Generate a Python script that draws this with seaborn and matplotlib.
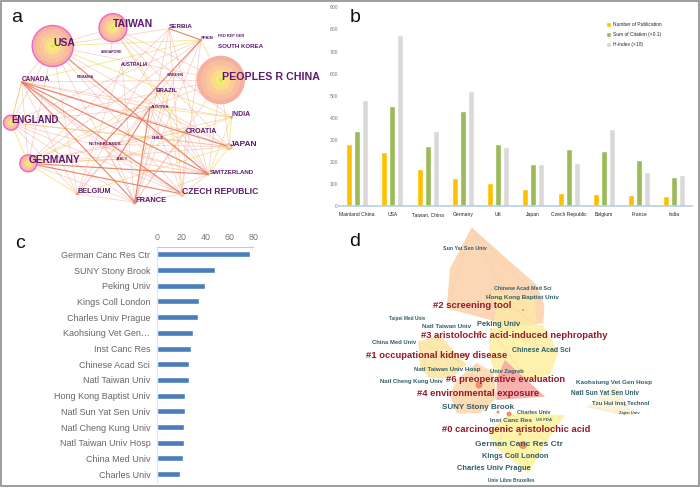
import numpy as np
import pandas as pd
import seaborn as sns
import matplotlib.pyplot as plt
from matplotlib.patches import Polygon, Rectangle

sns.set_style("white")
plt.rcParams['font.family'] = ['Liberation Sans', 'DejaVu Sans']

# Panel a: collaboration network between countries
node_names = ["USA", "TAIWAN", "PEOPLES R CHINA", "SERBIA", "SPAIN", "SINGAPORE", "AUSTRALIA", "ROMANIA",
              "CANADA", "SWEDEN", "BRAZIL", "AUSTRIA", "INDIA", "ENGLAND", "CROATIA", "CHILE", "JAPAN",
              "NETHERLANDS", "ITALY", "GERMANY", "SWITZERLAND", "BELGIUM", "CZECH REPUBLIC", "FRANCE"]
node_x = [52.7, 113, 220.7, 169.3, 201, 111, 122, 84, 21.7, 175, 165.7, 150, 231.7, 11, 186, 158, 229,
          103, 117.3, 28.3, 208.3, 77.3, 182, 134.7]
node_y = [46, 27.7, 80, 28.7, 40, 52, 64.3, 77, 82, 75.3, 91, 107.3, 117.3, 122.7, 131.3, 138, 146.7,
          144.3, 159.3, 163.3, 174.3, 194, 194, 202.3]
node_radius = [20.5, 14, 24.3, 1, 1, .8, .8, .6, 1, .8, .8, 1, 1.2, 7.5, 1, .8, 3.5, 1, 1.3, 8.5, 1.2, 1.3, 2.7, 2]
ring_nodes = ["USA", "TAIWAN", "ENGLAND", "GERMANY"]

label_names = ["USA", "TAIWAN", "PEOPLES R CHINA", "SERBIA", "SPAIN", "FED REP GER", "SOUTH KOREA", "SINGAPORE",
               "AUSTRALIA", "ROMANIA", "CANADA", "SWEDEN", "BRAZIL", "AUSTRIA", "INDIA", "ENGLAND", "CROATIA",
               "CHILE", "JAPAN", "NETHERLANDS", "ITALY", "GERMANY", "SWITZERLAND", "BELGIUM", "CZECH REPUBLIC",
               "FRANCE"]
label_x = [53, 113, 221.7, 169.3, 201, 218, 218, 101, 121, 76.7, 21.7, 166.7, 156, 150.7, 232, 11.7, 186,
           152, 230, 88.7, 116.7, 29, 210, 77.3, 182.3, 135]
label_y = [42.7, 24.3, 76.7, 26.3, 38.3, 36, 46.3, 51.7, 64.3, 76.7, 79.3, 75.3, 91, 106.7, 114.7, 119.7,
           131.3, 138, 144, 144.3, 159.3, 160.3, 172.3, 191.7, 191, 201]
label_size = [7.5, 7.5, 7.7, 4.6, 3.2, 2.8, 4.4, 2.6, 3.4, 2.6, 4.7, 2.8, 4.4, 3, 5, 6.9, 5, 3, 6, 3.2,
              3, 7.4, 4.4, 5.2, 6.2, 5.4]

edges_strong = [("GERMANY", "CZECH REPUBLIC"), ("GERMANY", "SWITZERLAND"), ("USA", "SWITZERLAND"),
                ("CANADA", "SWITZERLAND"), ("CANADA", "CZECH REPUBLIC"), ("AUSTRIA", "ITALY"),
                ("AUSTRIA", "FRANCE"), ("SPAIN", "SERBIA"), ("CANADA", "FRANCE"), ("CANADA", "JAPAN"),
                ("SPAIN", "NETHERLANDS")]
edges_medium = [("USA", "TAIWAN"), ("USA", "CANADA"), ("USA", "ENGLAND"), ("USA", "GERMANY"), ("USA", "BELGIUM"),
                ("USA", "FRANCE"), ("USA", "SERBIA"), ("USA", "JAPAN"), ("USA", "CZECH REPUBLIC"),
                ("USA", "PEOPLES R CHINA"), ("TAIWAN", "SINGAPORE"), ("TAIWAN", "INDIA"), ("TAIWAN", "JAPAN"),
                ("TAIWAN", "SWITZERLAND"), ("TAIWAN", "PEOPLES R CHINA"), ("PEOPLES R CHINA", "AUSTRIA"),
                ("PEOPLES R CHINA", "JAPAN"), ("PEOPLES R CHINA", "ENGLAND"), ("PEOPLES R CHINA", "SWITZERLAND"),
                ("PEOPLES R CHINA", "CANADA"), ("PEOPLES R CHINA", "FRANCE"), ("SERBIA", "BELGIUM"),
                ("SERBIA", "FRANCE"), ("SERBIA", "SWITZERLAND"), ("SERBIA", "CZECH REPUBLIC"), ("SERBIA", "GERMANY"),
                ("SPAIN", "GERMANY"), ("SPAIN", "ENGLAND"), ("SPAIN", "CZECH REPUBLIC"), ("SPAIN", "FRANCE"),
                ("SPAIN", "BELGIUM"), ("CANADA", "ENGLAND"), ("CANADA", "GERMANY"), ("CANADA", "BELGIUM"),
                ("CANADA", "ITALY"), ("CANADA", "CROATIA"), ("CANADA", "NETHERLANDS"), ("CANADA", "AUSTRIA"),
                ("CANADA", "INDIA"), ("ENGLAND", "AUSTRIA"), ("ENGLAND", "BELGIUM"), ("ENGLAND", "FRANCE"),
                ("ENGLAND", "SWITZERLAND"), ("ENGLAND", "JAPAN"), ("ENGLAND", "CZECH REPUBLIC"),
                ("GERMANY", "AUSTRIA"), ("GERMANY", "FRANCE"), ("GERMANY", "JAPAN"), ("GERMANY", "CROATIA"),
                ("GERMANY", "ITALY"), ("GERMANY", "INDIA"), ("NETHERLANDS", "FRANCE"), ("NETHERLANDS", "SWITZERLAND"),
                ("NETHERLANDS", "JAPAN"), ("NETHERLANDS", "CZECH REPUBLIC"), ("ITALY", "FRANCE"),
                ("ITALY", "SWITZERLAND"), ("ITALY", "CZECH REPUBLIC"), ("AUSTRIA", "SWITZERLAND"),
                ("AUSTRIA", "JAPAN"), ("AUSTRIA", "CZECH REPUBLIC"), ("BELGIUM", "FRANCE"), ("BELGIUM", "AUSTRIA"),
                ("FRANCE", "CZECH REPUBLIC"), ("FRANCE", "CROATIA"), ("FRANCE", "SWITZERLAND"), ("FRANCE", "BRAZIL"),
                ("CZECH REPUBLIC", "SWITZERLAND"), ("CROATIA", "JAPAN"), ("CROATIA", "SWITZERLAND"),
                ("CROATIA", "CZECH REPUBLIC"), ("CHILE", "JAPAN"), ("SWEDEN", "FRANCE"), ("AUSTRALIA", "FRANCE"),
                ("AUSTRALIA", "BELGIUM"), ("ROMANIA", "SWITZERLAND")]
edges_light = [("TAIWAN", "CROATIA"), ("USA", "INDIA"), ("CANADA", "SPAIN"), ("ENGLAND", "CANADA"),
               ("ENGLAND", "GERMANY"), ("GERMANY", "BELGIUM"), ("SPAIN", "PEOPLES R CHINA"), ("INDIA", "JAPAN"),
               ("JAPAN", "SWITZERLAND"), ("INDIA", "SWITZERLAND"), ("GERMANY", "ITALY"), ("NETHERLANDS", "CROATIA"),
               ("AUSTRIA", "INDIA"), ("CZECH REPUBLIC", "BRAZIL"), ("ENGLAND", "CHILE"), ("BELGIUM", "JAPAN"),
               ("USA", "SPAIN"), ("BRAZIL", "GERMANY"), ("ITALY", "INDIA")]

# Panel b: country comparison
b_countries = ["Mainland China", "USA", "Taiwan, China", "Germany", "UK", "Japan", "Czech Republic", "Belgium",
               "France", "India"]
b_publications = [279, 244, 167, 126, 103, 76, 55, 53, 47, 42]
b_citations = [338, 451, 269, 429, 279, 190, 258, 249, 209, 129]
b_hindex = [481, 777, 337, 520, 266, 190, 194, 349, 152, 140]
b_series = ["Number of Publication", "Sum of Citation (×0.1)", "H-index (×10)"]
b_ticks = [0, 100, 200, 300, 400, 500, 600, 700, 800, 900]

# Panel c: institutions
c_institutions = ["German Canc Res Ctr", "SUNY Stony Brook", "Peking Univ", "Kings Coll London",
                  "Charles Univ Prague", "Kaohsiung Vet Gen…", "Inst Canc Res", "Chinese Acad Sci",
                  "Natl Taiwan Univ", "Hong Kong Baptist Univ", "Natl Sun Yat Sen Univ", "Natl Cheng Kung Univ",
                  "Natl Taiwan Univ Hosp", "China Med Univ", "Charles Univ"]
c_counts = [77, 48, 40, 35, 34, 30, 28, 26, 26, 23, 23, 22, 22, 21, 19]
c_ticks = [0, 20, 40, 60, 80]

# Panel d: institution clusters, outlines traced in 3x crop pixels
d_clusters = [
    ([(395, 8), (590, 180), (613, 240), (610, 295), (540, 300), (470, 290), (320, 250), (330, 130)], "#fbd3ad"),
    ([(450, 195), (585, 225), (590, 300), (500, 320), (460, 300), (470, 250)], "#fde7a6"),
    ([(450, 310), (610, 300), (655, 380), (630, 450), (565, 470), (470, 460), (450, 400)], "#fdf0a4"),
    ([(235, 350), (300, 330), (380, 420), (330, 460), (270, 460), (240, 430)], "#fde6a4"),
    ([(410, 415), (460, 440), (470, 520), (420, 565), (350, 565), (330, 510), (350, 465)], "#fcd9ac"),
    ([(495, 405), (615, 515), (470, 525), (470, 460)], "#f8a9a6"),
    ([(510, 565), (675, 570), (620, 650), (565, 745), (470, 670), (445, 620)], "#fdf3a0"),
    ([(740, 545), (825, 480), (880, 570), (840, 570)], "#fdf3d8"),
]
d_labels = ["Sun Yat Sen Univ", "Chinese Acad Med Sci", "Hong Kong Baptist Univ", "Taipei Med Univ",
            "Natl Taiwan Univ", "Peking Univ", "China Med Univ", "Chinese Acad Sci", "Natl Taiwan Univ Hosp",
            "Univ Zagreb", "Natl Cheng Kung Univ", "Kaohsiung Vet Gen Hosp", "Natl Sun Yat Sen Univ",
            "Tzu Hui Inst Technol", "Zajen Univ", "SUNY Stony Brook", "Charles Univ", "Inst Canc Res", "US FDA",
            "German Canc Res Ctr", "Kings Coll London", "Charles Univ Prague", "Univ Libre Bruxelles"]
d_label_x = [443.3, 494.3, 485.7, 389.3, 422.3, 476.7, 372.3, 511.5, 414.3, 489.7, 379.7, 575.7, 571, 592.3,
             618.7, 441.7, 516.7, 490, 536, 474.7, 482.3, 457, 488.3]
d_label_y = [249, 289, 297, 318.3, 326, 324.7, 342, 351, 370, 371, 381, 382.7, 393.3, 403.3, 413, 407.7, 412,
             420.3, 420.3, 444, 457, 468.3, 480.3]
d_label_size = [3.8, 3.9, 4.6, 3.4, 4.5, 5.4, 4.2, 5.0, 4.5, 4.2, 4.3, 4.6, 4.7, 4.2, 3, 5.8, 4, 4.6, 3.2, 6.0, 5.4,
                5.4, 3.4]
d_topics = ["#2 screening tool", "#3 aristolochic acid-induced nephropathy", "#1 occupational kidney disease",
            "#6 preoperative evaluation", "#4 environmental exposure", "#0 carcinogenic aristolochic acid"]
d_topic_x = [432.7, 420.7, 365.7, 445.7, 416.7, 441.7]
d_topic_y = [306, 336, 355, 379.7, 393.3, 430]
d_topic_size = [6.8, 6.75, 6.75, 6.75, 6.75, 6.75]
d_node_x = [490, 523, 480, 465, 479, 510, 498, 509, 520, 523, 625]
d_node_y = [295, 310, 333, 355, 385, 395, 412, 414, 434, 445, 405]
d_node_r = [1, 1, 2, 2, 3.5, 1.5, 1.5, 2.5, 1.5, 4, 1]

fig = plt.figure(figsize=(7, 4.88), dpi=100)

# Whole figure axes in image pixels for the two network panels
ax = fig.add_axes([0, 0, 1, 1])
ax.set_xlim(0, 700)
ax.set_ylim(488, 0)
ax.axis("off")
ax.add_patch(Rectangle((0.8, 0.8), 698.4, 485.6, fill=False, ec="#8c8c8c", lw=1.2))

# Panel a
pos = {n: (x, y) for n, x, y in zip(node_names, node_x, node_y)}
for edges, color, lw, alpha in [(edges_light, "#f8e27c", 0.7, 0.8), (edges_medium, "#f4b09a", 0.5, 0.65),
                                (edges_strong, "#e8745a", 0.85, 0.85)]:
    for a, b in edges:
        ax.plot([pos[a][0], pos[b][0]], [pos[a][1], pos[b][1]], color=color, lw=lw, alpha=alpha, zorder=1)

df_nodes = pd.DataFrame({"name": node_names, "x": node_x, "y": node_y, "r": node_radius})
df_big = df_nodes[df_nodes["r"] > 2].copy()
rings = [(1.0, "#f7b0a0"), (0.82, "#f9bda0"), (0.62, "#fbc99a"), (0.42, "#fcdb8c"), (0.22, "#f6ec70"), (0.08, "#cfe85a")]
edge_col = ["#ee66c8" if n in ring_nodes else "none" for n in df_big["name"]]
for i, (frac, col) in enumerate(rings):
    sizes = (2 * df_big["r"].to_numpy() * frac * 0.72) ** 2
    sns.scatterplot(data=df_big, x="x", y="y", s=sizes, color=col, ax=ax, zorder=2,
                    edgecolor=edge_col if i == 0 else "none", linewidth=1.0 if i == 0 else 0)
df_small = df_nodes[df_nodes["r"] <= 2]
sns.scatterplot(data=df_small, x="x", y="y", s=(2 * df_small["r"].to_numpy() * 0.72) ** 2, color="#ef8f6a",
                edgecolor="none", ax=ax, zorder=2)
for name, x, y, size in zip(label_names, label_x, label_y, label_size):
    ax.text(x, y, name, fontsize=size, color="#5e1a70", fontweight="bold", va="center", ha="left", zorder=3)

# Panel d
for outline, color in d_clusters:
    pts = [(340 + px / 3, 225 + py / 3) for px, py in outline]
    ax.add_patch(Polygon(pts, closed=True, fc=color, ec="none", alpha=0.9, zorder=1))
    xs = [p[0] for p in pts]
    ys = [p[1] for p in pts]
    for j in range(2, len(pts), 2):
        ax.plot([xs[0], xs[j]], [ys[0], ys[j]], color="#f6b8a0", lw=0.3, alpha=0.5, zorder=1)
sns.scatterplot(x=d_node_x, y=d_node_y, s=[(2 * r * 0.72) ** 2 for r in d_node_r], color="#f0906a",
                edgecolor="none", ax=ax, zorder=2)
for name, x, y, size in zip(d_labels, d_label_x, d_label_y, d_label_size):
    ax.text(x, y, name, fontsize=size, color="#2f5f68", fontweight="bold", va="center", ha="left", zorder=3)
for name, x, y, size in zip(d_topics, d_topic_x, d_topic_y, d_topic_size):
    ax.text(x, y, name, fontsize=size, color="#96182c", fontweight="bold", va="center", ha="left", zorder=4)

for letter, x, y in [("a", 17, 18), ("b", 355, 18), ("c", 20, 243), ("d", 355, 242)]:
    ax.text(x, y, letter, fontsize=14, color="#111111", ha="center", va="center")

# Panel b
W, H = 700, 488
ax_b = fig.add_axes([339.4 / W, 1 - 205.5 / H, 352.6 / W, 198 / H])
ax_b.patch.set_alpha(0)
df_b = pd.DataFrame({"country": b_countries, b_series[0]: b_publications, b_series[1]: b_citations,
                     b_series[2]: b_hindex}).melt(id_vars="country", var_name="series", value_name="value")
sns.barplot(data=df_b, x="country", y="value", hue="series", hue_order=b_series, saturation=1,
            palette=["#ffc000", "#9bbb59", "#d9d9d9"], width=0.68, gap=0.25, ax=ax_b, legend=True)
ax_b.set_ylim(0, 900)
ax_b.set_xlim(-0.5, 9.5)
ax_b.set_xlabel("")
ax_b.set_ylabel("")
ax_b.set_yticks(b_ticks)
ax_b.tick_params(axis="y", labelsize=3.6, labelcolor="#777777", length=0, pad=1)
ax_b.tick_params(axis="x", labelsize=3.6, labelcolor="#222222", length=0, pad=5)
sns.despine(ax=ax_b, left=True)
ax_b.spines["bottom"].set_color("#b5d0e2")
ax_b.spines["bottom"].set_linewidth(1.2)
leg = ax_b.legend(loc="upper left", bbox_to_anchor=(0.757, 0.925), frameon=False, handlelength=0.9,
                  handleheight=1.1, handletextpad=0.5, labelspacing=1.0, borderpad=0, borderaxespad=0,
                  fontsize=3.5)

# Panel c
ax_c = fig.add_axes([157.3 / W, 1 - 482 / H, 96 / W, 235.5 / H])
ax_c.patch.set_alpha(0)
df_c = pd.DataFrame({"institution": c_institutions, "count": c_counts})
sns.barplot(data=df_c, x="count", y="institution", color="#4a7ebb", saturation=1, width=0.38, ax=ax_c)
ax_c.set_xlim(0, 80)
ax_c.set_xticks(c_ticks)
ax_c.set_xlabel("")
ax_c.set_ylabel("")
ax_c.xaxis.tick_top()
ax_c.tick_params(axis="x", labelsize=6.4, labelcolor="#777777", length=2.5, color="#b9cde5", pad=3, direction="in", top=True)
ax_c.tick_params(axis="y", labelsize=6.5, labelcolor="#666666", length=0, pad=5)
sns.despine(ax=ax_c, top=False, right=True, bottom=True, left=False)
ax_c.spines["top"].set_color("#b9cde5")
ax_c.spines["left"].set_color("#e4e4e4")

fig.savefig("out.png", dpi=100)
plt.close(fig)
